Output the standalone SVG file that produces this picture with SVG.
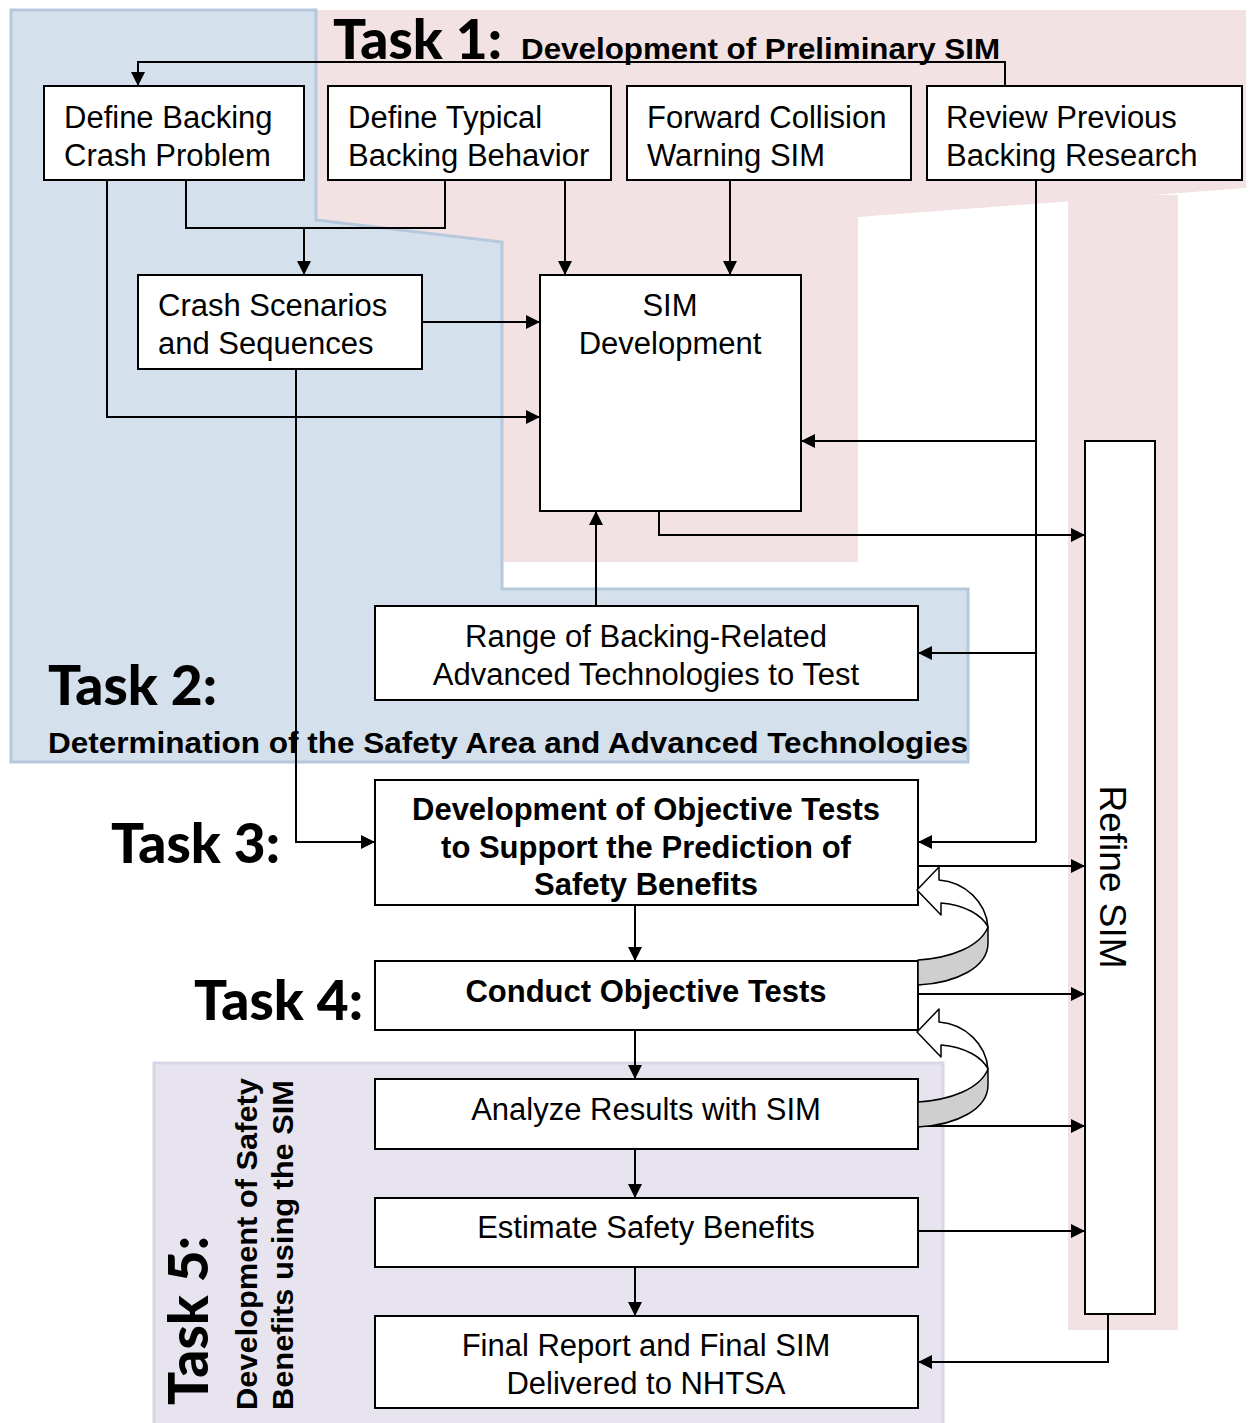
<svg xmlns="http://www.w3.org/2000/svg" width="1250" height="1423" viewBox="0 0 1250 1423">
  <defs>
    <marker id="ah" viewBox="0 0 14 14" refX="14" refY="7" markerWidth="14" markerHeight="14" markerUnits="userSpaceOnUse" orient="auto">
      <path d="M0,0 L14,7 L0,14 z" fill="#000"/>
    </marker>
    <style>
      .box { fill: #fff; stroke: #000; stroke-width: 2; }
      .t { font-family: "Liberation Sans", Arial, sans-serif; font-size: 31px; fill: #000; }
      .b { font-family: "Liberation Sans", Arial, sans-serif; font-size: 31px; font-weight: bold; fill: #000; }
      .c { text-anchor: middle; }
      .task { font-family: Lato, "Liberation Sans", sans-serif; font-size: 55px; font-weight: 900; fill: #000; }
      .sub { font-family: "Liberation Sans", Arial, sans-serif; font-size: 30px; font-weight: bold; fill: #000; }
      .wire { fill: none; stroke: #000; stroke-width: 2; }
      .arr { fill: none; stroke: #000; stroke-width: 2; marker-end: url(#ah); }
      .curl-front { fill: #fff; stroke: #000; stroke-width: 1.5; stroke-linejoin: round; }
      .curl-back { fill: #cfcfcf; stroke: #000; stroke-width: 1.5; stroke-linejoin: round; }
    </style>
  </defs>

  <rect width="1250" height="1423" fill="#fff"/>

  <!-- task areas -->
  <g id="areas">
    <polygon id="area-task1" points="300,10 1246,10 1246,188 858,217 858,562 480,562 480,240 300,240" fill="#f2e2e4"/>
    <rect id="area-refine" x="1068" y="195" width="110" height="1135" fill="#f2e2e4"/>
    <polygon id="area-task2" points="11,10 316,10 316,220 502,242 502,589 968,589 968,762 11,762" fill="#d4e0ec" stroke="#b6c8dc" stroke-width="3"/>
    <rect id="area-task5" x="154" y="1063" width="789" height="370" fill="#e7e4ef" stroke="#d9d5e6" stroke-width="3"/>
  </g>

  <!-- task headings -->
  <g id="headings">
    <text class="task" x="333" y="59">Task 1:</text>
    <text class="sub" x="521" y="59" textLength="479" lengthAdjust="spacingAndGlyphs">Development of Preliminary  SIM</text>
    <text class="task" x="48" y="705">Task 2:</text>
    <text class="sub" x="48" y="753" textLength="920" lengthAdjust="spacingAndGlyphs">Determination of the Safety Area and Advanced Technologies</text>
    <text class="task" x="111" y="863">Task 3:</text>
    <text class="task" x="194" y="1020">Task 4:</text>
    <text class="task" transform="translate(208,1405) rotate(-90)">Task 5:</text>
    <text class="sub" transform="translate(257,1410) rotate(-90)" textLength="332" lengthAdjust="spacingAndGlyphs">Development of Safety</text>
    <text class="sub" transform="translate(293,1410) rotate(-90)" textLength="330" lengthAdjust="spacingAndGlyphs">Benefits using the SIM</text>
  </g>

  <!-- connectors -->
  <g id="connectors">
    <path class="arr" d="M1005,86 V62 H138 V86"/>
    <path class="arr" d="M107,180 V417 H540"/>
    <path class="wire" d="M186,180 V228 H445 V180"/>
    <path class="arr" d="M304,228 V275"/>
    <path class="arr" d="M565,180 V275"/>
    <path class="arr" d="M730,180 V275"/>
    <path class="arr" d="M422,322 H540"/>
    <path class="wire" d="M1036,180 V842"/>
    <path class="arr" d="M1036,441 H801"/>
    <path class="arr" d="M1036,653 H918"/>
    <path class="arr" d="M1036,842 H918"/>
    <path class="arr" d="M659,511 V535 H1085"/>
    <path class="arr" d="M596,606 V511"/>
    <path class="arr" d="M296,369 V842 H375"/>
    <path class="arr" d="M918,866 H1085"/>
    <path class="arr" d="M635,905 V961"/>
    <path class="arr" d="M911,994 H1085"/>
    <path class="arr" d="M635,1030 V1079"/>
    <path class="arr" d="M918,1126 H1085"/>
    <path class="arr" d="M635,1149 V1198"/>
    <path class="arr" d="M918,1231 H1085"/>
    <path class="arr" d="M635,1267 V1316"/>
    <path class="arr" d="M1108,1314 V1362 H918"/>
  </g>

  <!-- nodes -->
  <g id="n-define-crash">
    <rect class="box" x="44" y="86" width="260" height="94"/>
    <text class="t" x="64" y="128">Define Backing</text>
    <text class="t" x="64" y="166">Crash Problem</text>
  </g>
  <g id="n-define-typical">
    <rect class="box" x="328" y="86" width="283" height="94"/>
    <text class="t" x="348" y="128">Define Typical</text>
    <text class="t" x="348" y="166">Backing Behavior</text>
  </g>
  <g id="n-fcw-sim">
    <rect class="box" x="627" y="86" width="284" height="94"/>
    <text class="t" x="647" y="128">Forward Collision</text>
    <text class="t" x="647" y="166">Warning SIM</text>
  </g>
  <g id="n-review">
    <rect class="box" x="927" y="86" width="315" height="94"/>
    <text class="t" x="946" y="128">Review Previous</text>
    <text class="t" x="946" y="166">Backing Research</text>
  </g>
  <g id="n-scenarios">
    <rect class="box" x="138" y="275" width="284" height="94"/>
    <text class="t" x="158" y="316">Crash Scenarios</text>
    <text class="t" x="158" y="354">and Sequences</text>
  </g>
  <g id="n-sim-dev">
    <rect class="box" x="540" y="275" width="261" height="236"/>
    <text class="t c" x="670" y="316">SIM</text>
    <text class="t c" x="670" y="354">Development</text>
  </g>
  <g id="n-range">
    <rect class="box" x="375" y="606" width="543" height="94"/>
    <text class="t c" x="646" y="647">Range of Backing-Related</text>
    <text class="t c" x="646" y="685">Advanced Technologies to Test</text>
  </g>
  <g id="n-objective-tests">
    <rect class="box" x="375" y="780" width="543" height="125"/>
    <text class="b c" x="646" y="820">Development of Objective Tests</text>
    <text class="b c" x="646" y="858">to Support the Prediction of</text>
    <text class="b c" x="646" y="895">Safety Benefits</text>
  </g>
  <g id="n-conduct">
    <rect class="box" x="375" y="961" width="543" height="69"/>
    <text class="b c" x="646" y="1002">Conduct Objective Tests</text>
  </g>
  <g id="n-analyze">
    <rect class="box" x="375" y="1079" width="543" height="70"/>
    <text class="t c" x="646" y="1120">Analyze Results with SIM</text>
  </g>
  <g id="n-estimate">
    <rect class="box" x="375" y="1198" width="543" height="69"/>
    <text class="t c" x="646" y="1238">Estimate Safety Benefits</text>
  </g>
  <g id="n-final">
    <rect class="box" x="375" y="1316" width="543" height="92"/>
    <text class="t c" x="646" y="1356">Final Report and Final SIM</text>
    <text class="t c" x="646" y="1394">Delivered to NHTSA</text>
  </g>
  <g id="n-refine">
    <rect class="box" x="1085" y="441" width="70" height="873"/>
    <text class="t c" style="font-size:37px" transform="translate(1100,877) rotate(90)">Refine SIM</text>
  </g>

  <!-- iteration loops (curved arrows) -->
  <g id="loop-1">
    <path class="curl-back" d="M918,960 C950,958 980,947 988,927 L988,943 C988,967 957,983 918,985 Z"/>
    <path class="curl-front" d="M917,890 L939,867 L939,880 C965,882 986,902 988,927 C982,915 965,905 941,903 L941,915 Z"/>
  </g>
  <g id="loop-2" transform="translate(0,142)">
    <path class="curl-back" d="M918,960 C950,958 980,947 988,927 L988,943 C988,967 957,983 918,985 Z"/>
    <path class="curl-front" d="M917,890 L939,867 L939,880 C965,882 986,902 988,927 C982,915 965,905 941,903 L941,915 Z"/>
  </g>
</svg>
